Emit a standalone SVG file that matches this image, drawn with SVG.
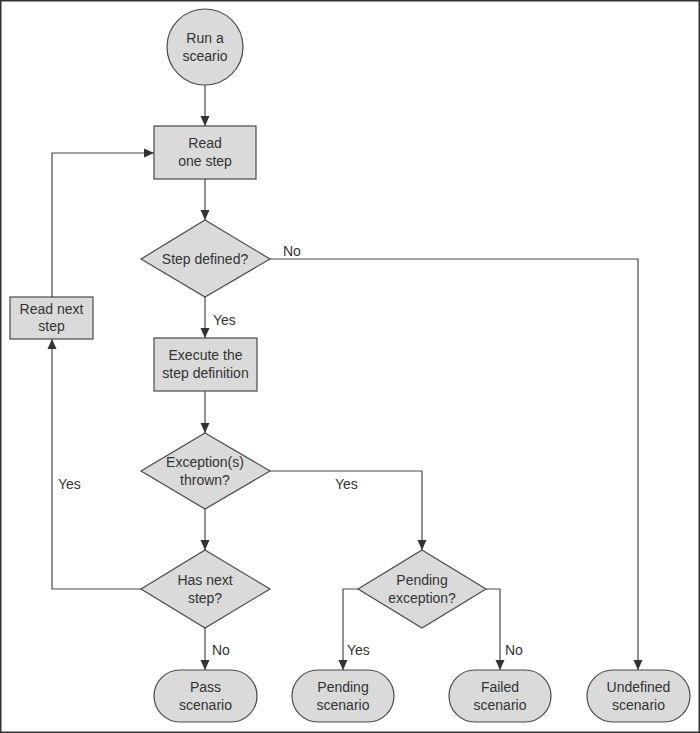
<svg xmlns="http://www.w3.org/2000/svg" width="700" height="733" viewBox="0 0 700 733">
<style>
.n{fill:#dadada;stroke:#4a4a4a;stroke-width:1.2}
.t{font-family:"Liberation Sans",Arial,sans-serif;font-size:14px;fill:#333;text-anchor:middle}
.l{font-family:"Liberation Sans",Arial,sans-serif;font-size:14px;fill:#333}
.c{fill:none;stroke:#4a4a4a;stroke-width:1.2;marker-end:url(#a)}
.c2{fill:none;stroke:#4a4a4a;stroke-width:1.2}
</style>
<defs>
<marker id="a" markerUnits="userSpaceOnUse" markerWidth="10" markerHeight="10" viewBox="0 0 10 10" refX="10" refY="5" orient="auto">
<path d="M0,0.5 L10,5 L0,9.5 z" fill="#333"/>
</marker>
</defs>
<rect x="0.75" y="0.75" width="698.5" height="731.5" fill="#fff" stroke="#333" stroke-width="1.5"/>
<g id="connectors">
<path class="c" d="M205,85 V126"/>
<path class="c" d="M205,179 V220"/>
<path class="c" d="M270,259 H638 V670"/>
<path class="c" d="M205,297 V338"/>
<path class="c" d="M205,391 V433"/>
<path class="c" d="M270,471 H422 V550"/>
<path class="c" d="M205,509 V550"/>
<path class="c" d="M141,589 H52 V339"/>
<path class="c" d="M52,297 V153 H154"/>
<path class="c" d="M205,628 V670"/>
<path class="c" d="M358,589 H343 V670"/>
<path class="c" d="M486,589 H500 V670"/>
<text class="l" x="283" y="256">No</text>
<text class="l" x="213" y="325">Yes</text>
<text class="l" x="58" y="489">Yes</text>
<text class="l" x="335" y="489">Yes</text>
<text class="l" x="212" y="655">No</text>
<text class="l" x="347" y="655">Yes</text>
<text class="l" x="505" y="655">No</text>
</g>
<g id="start">
<circle class="n" cx="205" cy="47" r="38"/>
<text class="t" x="205" y="43">Run a</text>
<text class="t" x="205" y="61">sceario</text>
</g>
<g id="read-one-step">
<rect class="n" x="154" y="126" width="102" height="53"/>
<text class="t" x="205" y="148">Read</text>
<text class="t" x="205" y="166">one step</text>
</g>
<g id="step-defined">
<polygon class="n" points="205,220 270,259 205,297 141,259"/>
<text class="t" x="205" y="264">Step defined?</text>
</g>
<g id="read-next-step">
<rect class="n" x="10" y="297" width="83" height="42"/>
<text class="t" x="51.5" y="314">Read next</text>
<text class="t" x="51.5" y="331">step</text>
</g>
<g id="execute">
<rect class="n" x="154" y="338" width="103" height="53"/>
<text class="t" x="205.5" y="360">Execute the</text>
<text class="t" x="205.5" y="378">step definition</text>
</g>
<g id="exception-thrown">
<polygon class="n" points="205,433 270,471 205,509 141,471"/>
<text class="t" x="205" y="467">Exception(s)</text>
<text class="t" x="205" y="485">thrown?</text>
</g>
<g id="has-next-step">
<polygon class="n" points="205,550 270,589 205,628 141,589"/>
<text class="t" x="205" y="585">Has next</text>
<text class="t" x="205" y="603">step?</text>
</g>
<g id="pending-exception">
<polygon class="n" points="422,550 486,589 422,628 358,589"/>
<text class="t" x="422" y="585">Pending</text>
<text class="t" x="422" y="603">exception?</text>
</g>
<g id="pass">
<rect class="n" x="154" y="670" width="103" height="52" rx="26"/>
<text class="t" x="205.5" y="692">Pass</text>
<text class="t" x="205.5" y="710">scenario</text>
</g>
<g id="pending">
<rect class="n" x="292" y="670" width="102" height="52" rx="26"/>
<text class="t" x="343" y="692">Pending</text>
<text class="t" x="343" y="710">scenario</text>
</g>
<g id="failed">
<rect class="n" x="449" y="670" width="102" height="52" rx="26"/>
<text class="t" x="500" y="692">Failed</text>
<text class="t" x="500" y="710">scenario</text>
</g>
<g id="undefined">
<rect class="n" x="587" y="670" width="103" height="52" rx="26"/>
<text class="t" x="638.5" y="692">Undefined</text>
<text class="t" x="638.5" y="710">scenario</text>
</g>
</svg>
